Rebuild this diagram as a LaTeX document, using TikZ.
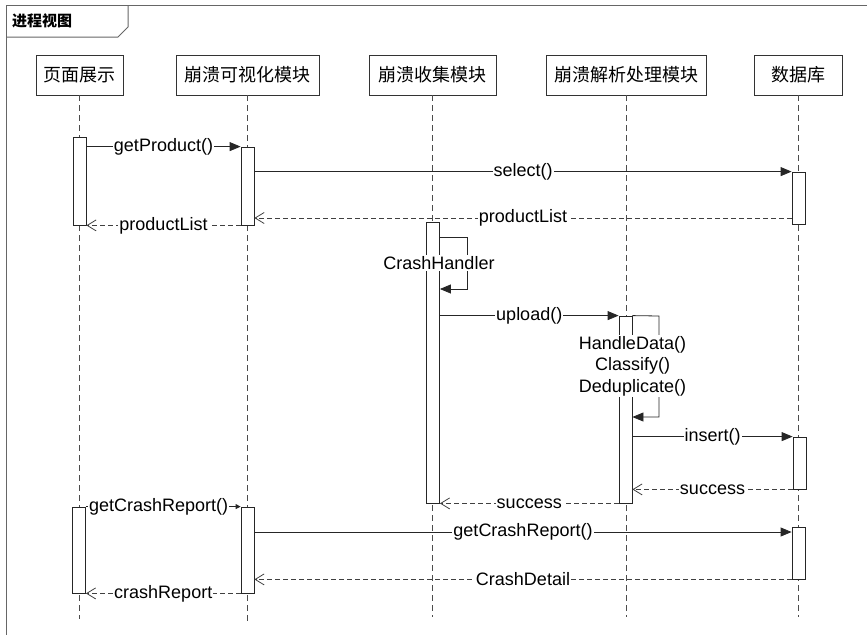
\documentclass[tikz,border=0pt]{standalone}
\usepackage{fontspec}
\setmainfont{Liberation Sans}
\newfontfamily\cjk{Noto Sans CJK SC}
\usetikzlibrary{arrows.meta}
\begin{document}
\begin{tikzpicture}[x=1pt,y=-1pt,
  frame/.style={draw=black!60, line width=1pt},
  head/.style={draw=black!80, line width=0.8pt, minimum height=40pt, inner sep=0pt,
    font=\cjk\fontsize{18}{20}\selectfont},
  act/.style={draw=black!85, fill=white, line width=0.8pt, minimum width=13pt, inner sep=0pt},
  life/.style={draw=black!70, dash pattern=on 6pt off 4pt, line width=0.8pt},
  call/.style={draw=black!85, line width=0.8pt, -{Triangle[length=11pt,width=9pt]}},
  smallcall/.style={draw=black!85, line width=0.8pt, -{Triangle[length=5pt,width=5pt]}},
  ret/.style={draw=black!75, dash pattern=on 5pt off 3pt, line width=0.8pt,
    -{Straight Barb[length=9pt,width=11pt]}},
  lbl/.style={fill=white, inner sep=1pt, font=\fontsize{18}{22}\selectfont, text=black},
]
\useasboundingbox (0,0) rectangle (867,635);

% diagram frame and its name tab
\draw[frame] (867,5) -- (6,5) -- (6,635);
\draw[frame] (6,37) -- (118,37) -- (128,27) -- (128,5);
\node[anchor=west, inner sep=0pt, font=\cjk\bfseries\fontsize{15}{15}\selectfont] (title) at (12,21) {进程视图};

% lifeline heads
\node[head, minimum width=87pt]  (pg)  at (79.5,75)  {页面展示};
\node[head, minimum width=143pt] (vis) at (247.5,75) {崩溃可视化模块};
\node[head, minimum width=127pt] (col) at (432.5,75) {崩溃收集模块};
\node[head, minimum width=160pt] (ana) at (626,75)   {崩溃解析处理模块};
\node[head, minimum width=88pt]  (db)  at (798,75)   {数据库};

% lifelines
\coordinate (pgEnd)  at (pg.south  |- 0,619);
\coordinate (visEnd) at (vis.south |- 0,622);
\coordinate (colEnd) at (col.south |- 0,617);
\coordinate (anaEnd) at (ana.south |- 0,617);
\coordinate (dbEnd)  at (db.south  |- 0,617);
\draw[life] (pg.south)  -- (pgEnd);
\draw[life] (vis.south) -- (visEnd);
\draw[life] (col.south) -- (colEnd);
\draw[life] (ana.south) -- (anaEnd);
\draw[life] (db.south)  -- (dbEnd);

% activation bars
\node[act, minimum height=88pt]  (pA) at (79.5,181)  {};
\node[act, minimum height=78pt]  (vA) at (247.5,186) {};
\node[act, minimum height=52pt]  (dA) at (798.5,198) {};
\node[act, minimum height=281pt] (cA) at (433,362.5) {};
\node[act, minimum height=187pt] (hA) at (625.5,409.5) {};
\node[act, minimum height=52pt]  (dB) at (799.5,463) {};
\node[act, minimum height=86pt]  (pB) at (79,550)    {};
\node[act, minimum height=86pt]  (vB) at (247.5,550) {};
\node[act, minimum height=52pt]  (dC) at (798.5,553) {};

% product list query
\draw[call] (pA.east |- vA.north) -- node[lbl] {getProduct()} (vA.north west);
\draw[call] (vA.east |- dA.north) -- node[lbl] {select()} (dA.north west);
\draw[ret]  (dA.west |- 0,218) -- node[lbl] {productList} (vA.east |- 0,218);
\draw[ret]  (vA.south west) -- node[lbl] {productList} (pA.south east);

% crash collection
\coordinate (ch1) at (467,237);
\coordinate (ch2) at (467,289);
\draw[call] (cA.east |- ch1) -- (ch1) -- (ch2) -- (cA.east |- ch2);
\draw[call] (cA.east |- hA.north) -- node[lbl] {upload()} (hA.north west);

% crash analysis
\coordinate (ha1) at (659,316);
\coordinate (ha2) at (659,417);
\draw[call] (hA.north east) -- (ha1) -- (ha2) -- (hA.east |- ha2);
\draw[call] (hA.east |- dB.north) -- node[lbl] {insert()} (dB.north west);
\draw[ret]  (dB.south west) -- node[lbl] {success} (hA.east |- dB.south);
\draw[ret]  (hA.south west) -- node[lbl] {success} (cA.south east);

% crash report query
\draw[smallcall] (pB.north east) -- node[lbl, pos=0.47] {getCrashReport()} (vB.north west);
\draw[call] (vB.east |- 0,532) -- node[lbl] {getCrashReport()} (dC.west |- 0,532);
\draw[ret]  (dC.south west) -- node[lbl] {CrashDetail} (vB.east |- dC.south);
\draw[ret]  (vB.south west) -- node[lbl] {crashReport} (pB.south east);

% self-call labels, set over the bars
\node[lbl] (chLbl) at (439,263) {CrashHandler};
\node[lbl, align=center, font=\fontsize{18}{21.5}\selectfont] (haLbl) at (632.5,366)
  {HandleData()\\Classify()\\Deduplicate()};
\end{tikzpicture}
\end{document}
